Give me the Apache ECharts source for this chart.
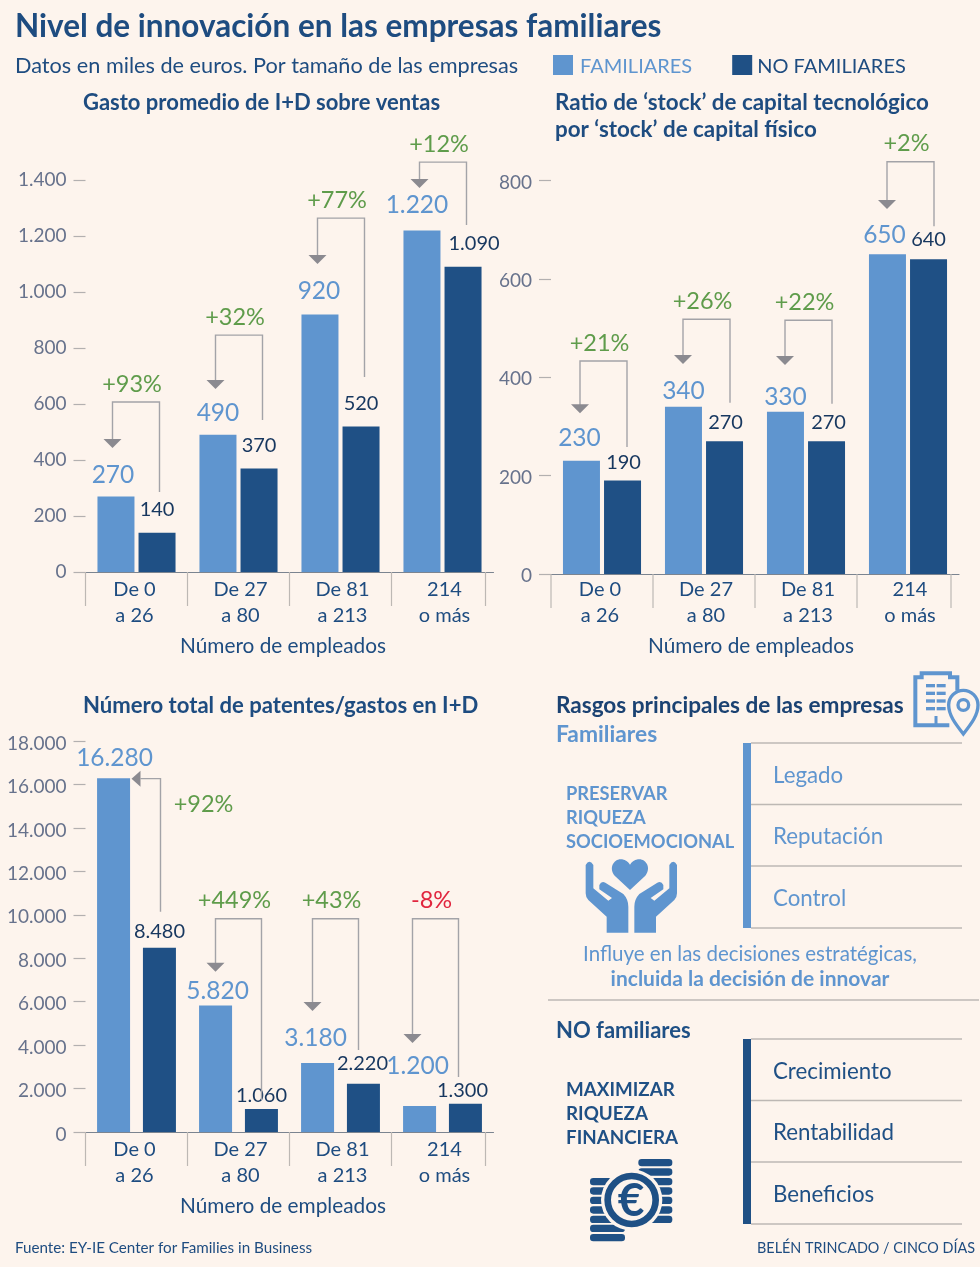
<!DOCTYPE html>
<html>
<head>
<meta charset="utf-8">
<title>Nivel de innovación en las empresas familiares</title>
<style>
	html, body { margin: 0; padding: 0; background: #fdf4ed; }
	#chart { width: 980px; height: 1267px; }
</style>
<script src="https://cdn.jsdelivr.net/npm/echarts@6/dist/echarts.min.js"></script>
</head>
<body>
<div id="chart"></div>
<script>
var categories = ["De 0\na 26", "De 27\na 80", "De 81\na 213", "214\no más"];

var gastoFamiliares = [270, 490, 920, 1220];
var gastoNoFamiliares = [140, 370, 520, 1090];
var gastoPct = ["+93%", "+32%", "+77%", "+12%"];

var ratioFamiliares = [230, 340, 330, 650];
var ratioNoFamiliares = [190, 270, 270, 640];
var ratioPct = ["+21%", "+26%", "+22%", "+2%"];

var patentesFamiliares = [16280, 5820, 3180, 1200];
var patentesNoFamiliares = [8480, 1060, 2220, 1300];
var patentesPct = ["+92%", "+449%", "+43%", "-8%"];

var FONT = "Lato";
var BG = "#fdf4ed";
var LIGHT = "#5f95cf";
var DARK = "#1f5085";
var INK = "#1e4c80";
var GREEN = "#5f9c4b";
var RED = "#e1263f";
var AXIS_TEXT = "#67728c";
var RULE = "#bdb8b4";
var ARROW = "#8b8a90";

function miles(v) {
	return String(v).replace(/\B(?=(\d{3})+$)/g, ".");
}

// connector arrows and label nudges, in axis units / pixels, one per category
var panels = [
	{
		left: 85.5, top: 180, height: 392, max: 1400, interval: 200,
		fam: gastoFamiliares, noFam: gastoNoFamiliares, pct: gastoPct,
		barWidth: 37, barGap: "11%",
		labelMargin: 5, nameGap: 64, namePad: 13, tickLabelPad: 0,
		bracketTop: [607, 846, 1264, 1464],
		arrowTip: [443, 654, 1100, 1371],
		stemEnd: [286, 543, 696, 1239],
		bracketX: [-24, 23], bracketShift: [0, 1, 1, 1],
		nudgeFam: [[-3, -3], [0, -4], [-1, -5], [-5, -7]],
		nudgeNoFam: [[0, -7], [0, -7], [0, -7], [11, -7]]
	},
	{
		left: 551, top: 180.5, height: 393.5, max: 800, interval: 200,
		fam: ratioFamiliares, noFam: ratioNoFamiliares, pct: ratioPct,
		barWidth: 37, barGap: "11%",
		labelMargin: 3, nameGap: 62, namePad: 8, tickLabelPad: 4,
		bracketTop: [433, 518, 516, 838],
		arrowTip: [327, 427, 425, 742],
		stemEnd: [258, 348, 346, 707],
		bracketX: [-22, 25], bracketShift: [0, 1, 1, 1],
		nudgeFam: [[-2, -5], [0, 2], [0, 3], [-3, -1]],
		nudgeNoFam: [[1, -2], [1, -3], [2, -3], [0, -4]]
	},
	{
		left: 85.5, top: 741, height: 391, max: 18000, interval: 2000,
		fam: patentesFamiliares, noFam: patentesNoFamiliares, pct: patentesPct,
		barWidth: 33, barGap: "39%",
		labelMargin: 5, nameGap: 64, namePad: 13, tickLabelPad: 5,
		bracketTop: [16267, 9820, 9820, 9820],
		arrowTip: [0, 7373, 5576, 4101],
		stemEnd: [10138, 1475, 3779, 2535],
		bracketX: [-23, 23], bracketShift: [0, 0, -5, -7],
		sideArrow: true,
		nudgeFam: [[1, -2], [2, 4], [-2, -7], [-2, -22]],
		nudgeNoFam: [[0, 0], [0, 3], [-1, -4], [-3, 3]]
	}
];

// the category labels sit slightly off the bar groups
var categoryPadKeys = ["l", "r", "r", "r"];

function labelledData(values, nudges) {
	return values.map(function (v, i) {
		return { value: v, label: { offset: nudges[i] } };
	});
}

function connectorItem(panel) {
	return function (params, api) {
		var i = params.dataIndex;
		var base = api.coord([i, 0]);
		var cx = base[0];
		var band = 102;
		var lineStyle = { stroke: "#a3a3a8", lineWidth: 1.4, fill: null };
		var children = [];

		// category separators under the axis
		var seps = [cx - band / 2];
		if (i === categories.length - 1) seps.push(cx + band / 2 - 8);
		seps.forEach(function (sx) {
			children.push({
				type: "line",
				shape: { x1: sx, y1: base[1], x2: sx, y2: base[1] + 34 },
				style: { stroke: RULE, lineWidth: 1.2 }
			});
		});

		var xl = cx + panel.bracketX[0] + panel.bracketShift[i];
		var xr = cx + panel.bracketX[1] + panel.bracketShift[i];
		var yTop = api.coord([i, panel.bracketTop[i]])[1];
		var yStem = api.coord([i, panel.stemEnd[i]])[1];
		var pctColor = panel.pct[i].charAt(0) === "-" ? RED : GREEN;

		if (panel.sideArrow && i === 0) {
			children.push({
				type: "polyline",
				shape: { points: [[cx + 4, yTop], [xr + 1, yTop], [xr + 1, yStem]] },
				style: lineStyle
			});
			children.push({
				type: "polygon",
				shape: { points: [[cx + 4, yTop - 8], [cx + 4, yTop + 8], [cx - 5, yTop]] },
				style: { fill: ARROW }
			});
			children.push({
				type: "text",
				style: {
					text: panel.pct[i], x: xr + 44, y: yTop + 26, fill: pctColor,
					font: "23.5px " + FONT, textAlign: "center", textVerticalAlign: "middle"
				}
			});
			return { type: "group", children: children };
		}

		var yTip = api.coord([i, panel.arrowTip[i]])[1];
		children.push({
			type: "polyline",
			shape: { points: [[xl, yTip - 6], [xl, yTop], [xr, yTop], [xr, yStem]] },
			style: lineStyle
		});
		children.push({
			type: "polygon",
			shape: { points: [[xl - 9, yTip - 9], [xl + 9, yTip - 9], [xl, yTip]] },
			style: { fill: ARROW }
		});
		children.push({
			type: "text",
			style: {
				text: panel.pct[i], x: (xl + xr) / 2 - 4, y: yTop - 18, fill: pctColor,
				font: "23.5px " + FONT, textAlign: "center", textVerticalAlign: "middle"
			}
		});
		return { type: "group", children: children };
	};
}

var catStyle = { color: INK, fontFamily: FONT, fontSize: 20, lineHeight: 26 };
var grids = [], xAxes = [], yAxes = [], series = [];

panels.forEach(function (p, n) {
	grids.push({ left: p.left, top: p.top, width: 408, height: p.height });
	xAxes.push({
		gridIndex: n,
		type: "category",
		data: categories,
		axisLine: { lineStyle: { color: "#7b8490", width: 1.2 } },
		axisTick: { show: false },
		axisLabel: {
			color: INK, fontFamily: FONT, fontSize: 20, lineHeight: 26,
			margin: p.labelMargin,
			interval: 0,
			formatter: function (v, i) {
				return v.split("\n").map(function (line) {
					return "{" + categoryPadKeys[i] + "|" + line + "}";
				}).join("\n");
			},
			rich: {
				l: Object.assign({ padding: [0, 4, 0, 0] }, catStyle),
				r: Object.assign({ padding: [0, 0, 0, 4] }, catStyle)
			}
		},
		name: "Número de empleados",
		nameLocation: "middle",
		nameGap: p.nameGap,
		nameTextStyle: { color: INK, fontFamily: FONT, fontSize: 20.8, padding: [0, p.namePad, 0, 0] }
	});
	yAxes.push({
		gridIndex: n,
		type: "value",
		min: 0,
		max: p.max,
		interval: p.interval,
		splitLine: { show: false },
		axisLine: { show: false },
		axisTick: { show: true, length: 12, lineStyle: { color: "#b3b0b0", width: 1.2 } },
		axisLabel: {
			margin: 19,
			formatter: function (v) { return "{t|" + miles(v) + "}"; },
			rich: {
				t: {
					color: AXIS_TEXT, fontFamily: FONT, fontSize: 19,
					padding: [p.tickLabelPad, 0, 0, 0]
				}
			}
		}
	});
	series.push({
		name: "FAMILIARES",
		type: "bar",
		xAxisIndex: n,
		yAxisIndex: n,
		barWidth: p.barWidth,
		barGap: p.barGap,
		itemStyle: { color: LIGHT },
		label: {
			show: true, position: "top", distance: 5, color: LIGHT,
			fontFamily: FONT, fontSize: 24.5, lineHeight: 26,
			formatter: function (o) { return miles(o.value); }
		},
		data: labelledData(p.fam, p.nudgeFam)
	});
	series.push({
		name: "NO FAMILIARES",
		type: "bar",
		xAxisIndex: n,
		yAxisIndex: n,
		barWidth: p.barWidth,
		itemStyle: { color: DARK },
		label: {
			show: true, position: "top", distance: 6, color: "#17375f",
			fontFamily: FONT, fontSize: 20, lineHeight: 20,
			formatter: function (o) { return miles(o.value); }
		},
		data: labelledData(p.noFam, p.nudgeNoFam)
	});
	series.push({
		type: "custom",
		xAxisIndex: n,
		yAxisIndex: n,
		silent: true,
		clip: false,
		z: 5,
		renderItem: connectorItem(p),
		encode: { x: 0, y: 1 },
		data: categories.map(function (c, i) { return [i, 0]; })
	});
});

function txt(text, x, y, size, color, weight, align) {
	return {
		type: "text",
		style: {
			text: text, x: x, y: y, fill: color,
			font: (weight || "normal") + " " + size + "px " + FONT,
			textAlign: align || "left", textVerticalAlign: "middle"
		}
	};
}

function rule(x1, y1, x2, y2, color, width) {
	return {
		type: "line",
		shape: { x1: x1, y1: y1, x2: x2, y2: y2 },
		style: { stroke: color || RULE, lineWidth: width || 1.4 }
	};
}

function traitsBlock(top, color, traits, goal, goalTop, goalSize) {
	var els = [{
		type: "rect",
		shape: { x: 743, y: top, width: 8, height: 185 },
		style: { fill: color }
	}];
	[0, 61.5, 123, 185].forEach(function (d) {
		els.push(rule(751, top + d, 962, top + d));
	});
	traits.forEach(function (t, i) {
		els.push(txt(t, 773, top + 32.5 + i * 61.5, 22.3, color));
	});
	goal.forEach(function (t, i) {
		els.push(txt(t, 566, goalTop + i * 24, goalSize, color, "bold"));
	});
	return els;
}

// icons are traced in a 3x space and scaled down
var iconPaths = {
	handLeft: "M137 615 Q148 596 160 615 L160 685 L205 722 L216 714 L178 688 L178 675 Q184 662 196 668 L250 702 Q265 718 265 740 L265 818 L200 818 L200 770 L145 720 Q137 712 137 700 Z",
	handRight: "M411 615 Q400 596 388 615 L388 685 L343 722 L332 714 L370 688 L370 675 Q364 662 352 668 L298 702 Q283 718 283 740 L283 818 L348 818 L348 770 L403 720 Q411 712 411 700 Z",
	heart: "M270 690 L224 647 C204 622 224 594 246 598 C258 600 265 607 270 614 C275 607 282 600 294 598 C316 594 336 622 316 647 Z",
	mapPin: "M1270 222 C1245 190 1226 165 1226 135 A44 44 0 1 1 1314 135 C1314 165 1295 190 1270 222 Z"
};
Object.keys(iconPaths).forEach(function (k) {
	echarts.graphic.registerShape(k, echarts.graphic.extendPath(iconPaths[k]));
});

var handsIcon = {
	type: "group", x: 540, y: 660, scaleX: 1 / 3, scaleY: 1 / 3,
	children: ["handLeft", "handRight", "heart"].map(function (k) {
		return { type: k, style: { fill: LIGHT } };
	})
};

var windowRows = [77, 100, 123, 146];
var buildingParts = [{
	type: "polyline",
	shape: { points: [[1252, 92], [1252, 52], [1230, 52], [1230, 40], [1145, 40], [1145, 52], [1126, 52], [1126, 196], [1228, 196]] },
	style: { stroke: LIGHT, lineWidth: 12, fill: null }
}, {
	type: "line",
	shape: { x1: 1188, y1: 168, x2: 1188, y2: 196 },
	style: { stroke: LIGHT, lineWidth: 9 }
}, {
	type: "mapPin",
	style: { fill: BG, stroke: LIGHT, lineWidth: 10 }
}, {
	type: "circle",
	shape: { cx: 1270, cy: 135, r: 16 },
	style: { fill: BG, stroke: LIGHT, lineWidth: 10 }
}];
windowRows.forEach(function (wy) {
	[1158, 1190].forEach(function (wx) {
		buildingParts.unshift({
			type: "rect",
			shape: { x: wx, y: wy - 5, width: 27, height: 10 },
			style: { fill: LIGHT }
		});
	});
});
var buildingIcon = {
	type: "group", x: 540, y: 660, scaleX: 1 / 3, scaleY: 1 / 3,
	children: buildingParts
};

function coinBar(x, y, width) {
	return {
		type: "rect",
		shape: { x: x, y: y - 11, width: width, height: 22, r: 10 },
		style: { fill: DARK }
	};
}
var coinParts = [];
[488, 516].forEach(function (y) { coinParts.push(coinBar(295, y, 102)); });
[545, 573, 601, 630, 658].forEach(function (y) { coinParts.push(coinBar(320, y, 77)); });
[545, 573, 601, 630, 658, 685, 713].forEach(function (y) { coinParts.push(coinBar(150, y, 105)); });
coinParts.push({
	type: "circle",
	shape: { cx: 275, cy: 600, r: 92 },
	style: { fill: BG }
});
coinParts.push({
	type: "circle",
	shape: { cx: 275, cy: 600, r: 72 },
	style: { fill: BG, stroke: DARK, lineWidth: 20 }
});
var coinsIcon = {
	type: "group", x: 540, y: 1000, scaleX: 1 / 3, scaleY: 1 / 3,
	children: coinParts
};

var graphics = [
	txt("Nivel de innovación en las empresas familiares", 15, 27, 31.5, INK, "bold"),
	txt("Datos en miles de euros. Por tamaño de las empresas", 15, 66.5, 21.7, INK),
	txt("Gasto promedio de I+D sobre ventas", 83, 103, 22, INK, "bold"),
	txt("Ratio de ‘stock’ de capital tecnológico", 555, 103, 22.4, INK, "bold"),
	txt("por ‘stock’ de capital físico", 555, 130, 22.4, INK, "bold"),
	txt("Número total de patentes/gastos en I+D", 83, 706, 22.1, INK, "bold"),
	txt("Rasgos principales de las empresas", 556, 706, 22.6, "#1b4272", "bold"),
	txt("Familiares", 556, 735, 22.8, LIGHT, "bold"),
	txt("Influye en las decisiones estratégicas,", 750, 954, 20.5, LIGHT, "normal", "center"),
	txt("incluida la decisión de innovar", 750, 979, 21, LIGHT, "bold", "center"),
	rule(548, 1000, 979, 1000),
	txt("NO familiares", 556, 1031, 22, DARK, "bold"),
	txt("Fuente: EY-IE Center for Families in Business", 15, 1248, 15.2, INK),
	txt("BELÉN TRINCADO / CINCO DÍAS", 975, 1248, 14.4, INK, "normal", "right"),
	handsIcon,
	buildingIcon,
	coinsIcon,
	txt("€", 631, 1201, 46, DARK, "bold", "center")
]
	.concat(traitsBlock(743, LIGHT, ["Legado", "Reputación", "Control"],
		["PRESERVAR", "RIQUEZA", "SOCIOEMOCIONAL"], 794, 18.3))
	.concat(traitsBlock(1039, DARK, ["Crecimiento", "Rentabilidad", "Beneficios"],
		["MAXIMIZAR", "RIQUEZA", "FINANCIERA"], 1090, 18.8));

var myChart = echarts.init(document.getElementById("chart"), null, { renderer: "canvas" });
myChart.setOption({
	backgroundColor: BG,
	animation: false,
	tooltip: { show: false },
	legend: {
		left: 553,
		top: 55,
		padding: 0,
		itemWidth: 20,
		itemHeight: 20,
		itemGap: 40,
		icon: "rect",
		selectedMode: false,
		formatter: function (name) {
			return (name === "FAMILIARES" ? "{a|" : "{b|") + name + "}";
		},
		textStyle: {
			rich: {
				a: { color: LIGHT, fontFamily: FONT, fontSize: 20, padding: [4, 0, 0, 2] },
				b: { color: INK, fontFamily: FONT, fontSize: 20, padding: [4, 0, 0, 0] }
			}
		},
		data: ["FAMILIARES", "NO FAMILIARES"]
	},
	grid: grids,
	xAxis: xAxes,
	yAxis: yAxes,
	series: series,
	graphic: graphics
});
</script>
</body>
</html>
